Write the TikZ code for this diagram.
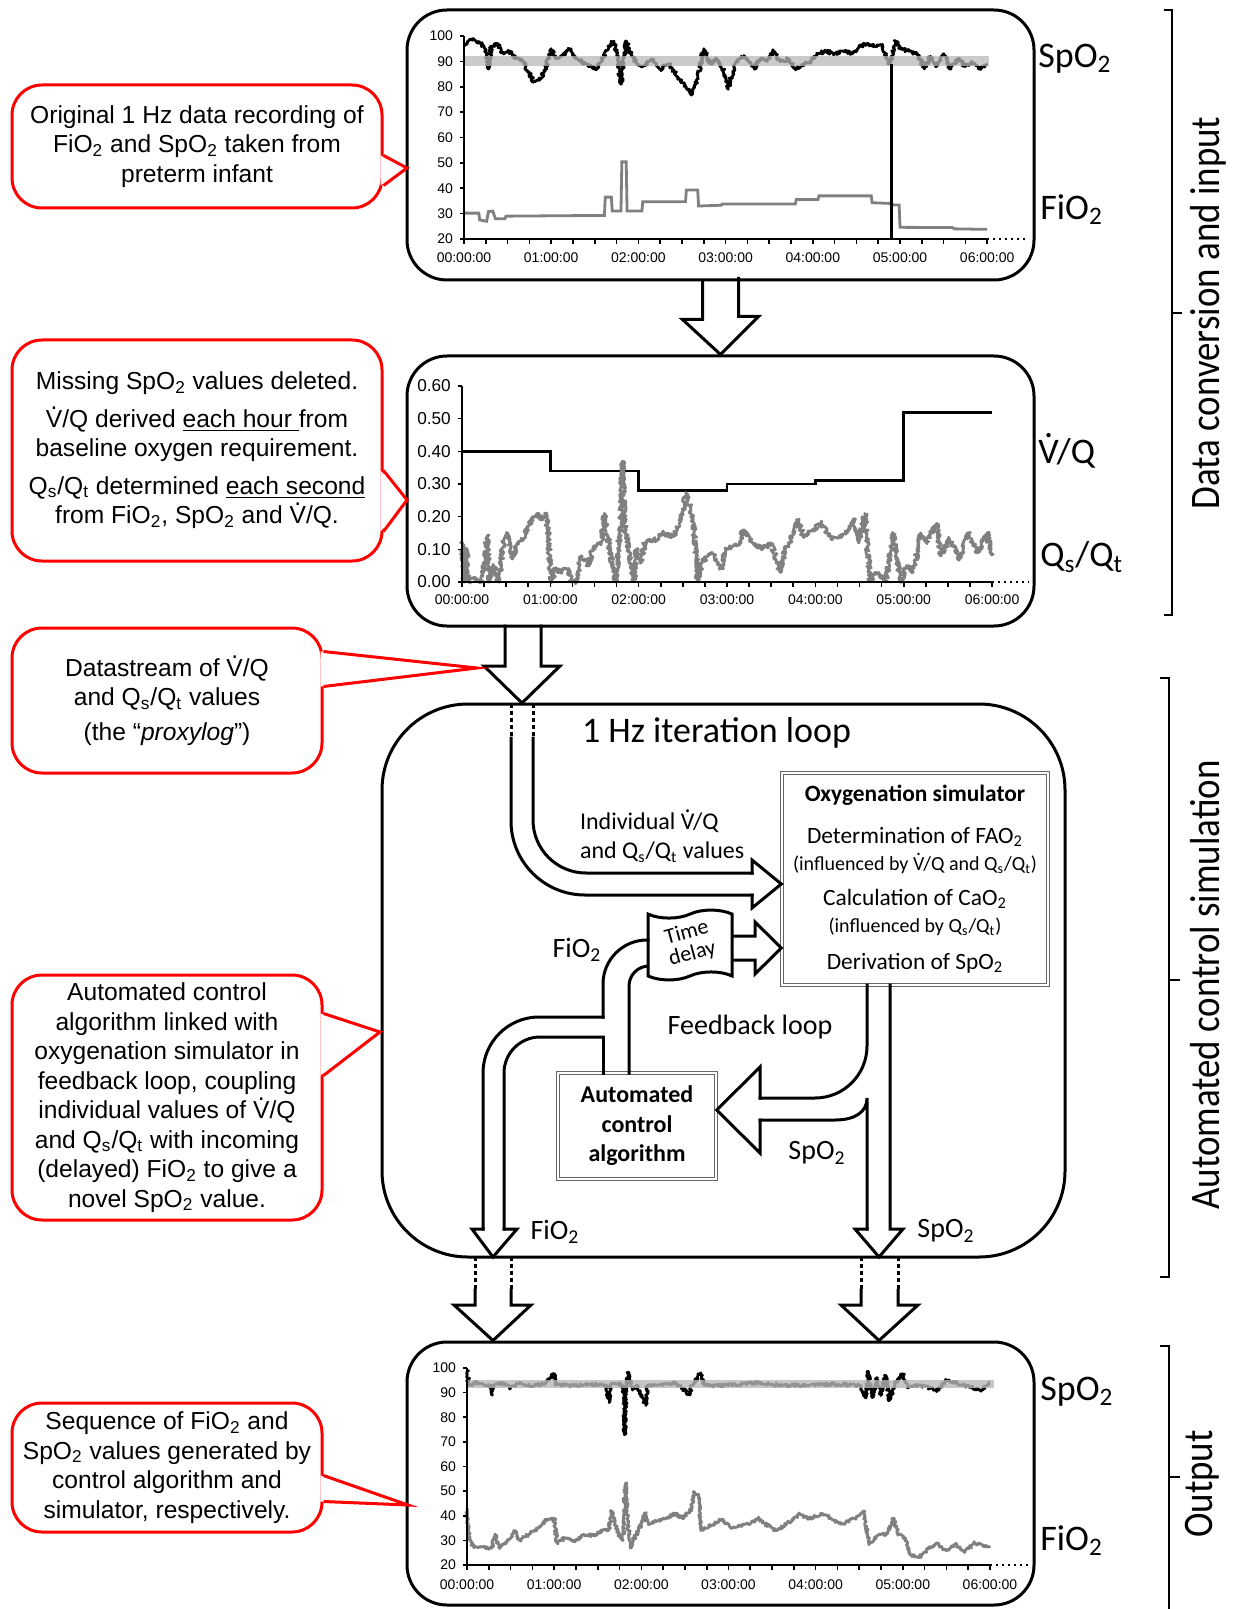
\documentclass[tikz,border=0pt]{standalone}
\usepackage{fontspec}
\setmainfont{Liberation Sans}
\newfontfamily\calibri{Carlito}
\usetikzlibrary{calc}
\usetikzlibrary{shapes.symbols}
\usetikzlibrary{decorations.pathmorphing}

\newcommand{\sbs}[1]{\textsubscript{#1}}
\newcommand{\Vdot}{\leavevmode\rlap{\hbox to \fontcharwd\font`V{\hss\raisebox{0.74em}{.}\hss}}V}

\tikzstyle{panel}=[draw,line width=1.5pt,rounded corners=20pt,inner sep=0pt]
\tikzstyle{callout}=[draw=red,line width=1.5pt,rounded corners=15pt,fill=white,align=center,inner sep=0pt,font=\fontsize{12.3}{14.75}\selectfont]
\tikzstyle{pointer}=[draw=red,line width=1.5pt,line join=miter]
\tikzstyle{pipe}=[draw,line width=1.5pt,line cap=rect,line join=miter]
\tikzstyle{dotpipe}=[draw,line width=1.5pt,line cap=butt,dash pattern=on 2pt off 1.5pt]
\tikzstyle{simbox}=[draw=black!60,double=white,double distance=1pt,line width=0.7pt,inner sep=0pt,align=center,fill=white]
\tikzstyle{axislbl}=[font=\fontsize{7}{8}\selectfont,inner sep=1pt]
\tikzstyle{sidelbl}=[font=\calibri\fontsize{18}{20}\selectfont,anchor=west,inner sep=0pt]
\tikzstyle{flowlbl}=[font=\calibri\fontsize{14}{16}\selectfont]
\tikzstyle{noisy}=[line width=1.4pt,line join=round,decorate,decoration={random steps,segment length=0.5pt,amplitude=0.9pt}]
\tikzstyle{stagebracket}=[draw,line width=0.8pt]
\tikzstyle{stagelbl}=[rotate=90,font=\calibri\fontsize{21}{24}\selectfont]

\begin{document}
\begin{tikzpicture}[x=0.5pt,y=-0.5pt]
\useasboundingbox (0,0) rectangle (1235,1609);
\pgfmathsetseed{11}

% panels
\node[panel,minimum width=313.5pt,minimum height=135pt] (top) at (720.5,145) {};
\node[panel,minimum width=313.5pt,minimum height=135pt] (mid) at (720.5,491) {};
\node[panel,rounded corners=43pt,minimum width=341.5pt,minimum height=276.5pt] (loop) at (723.5,980.5) {};
\node[panel,minimum width=313.5pt,minimum height=131.5pt] (outbox) at (720.5,1473.5) {};

% chart 1: raw recording
\begin{scope}[shift={(464,289.75)},x=43.6pt,y=1.26875pt]
  \draw[noisy] plot coordinates {(0,96) (0.05,98) (0.12,98.5) (0.2,97) (0.25,94) (0.28,87) (0.31,96) (0.38,97) (0.45,93) (0.52,94) (0.6,91) (0.68,90) (0.75,85) (0.8,82) (0.88,83) (0.93,87) (1.0,95) (1.05,91) (1.12,92) (1.2,95) (1.3,91) (1.4,89) (1.5,87) (1.58,90) (1.65,96) (1.72,98) (1.76,92) (1.8,81) (1.86,98) (1.9,94) (1.98,89) (2.05,88) (2.15,91) (2.25,87) (2.35,89) (2.45,84) (2.55,80) (2.62,77) (2.68,84) (2.75,95) (2.82,89) (2.9,91) (2.97,87) (3.03,79) (3.1,88) (3.18,92) (3.25,91) (3.33,87) (3.4,91) (3.48,90) (3.55,94) (3.62,90) (3.72,91) (3.8,87) (3.9,89) (3.98,90) (4.05,93) (4.15,94) (4.25,93) (4.35,94) (4.45,93) (4.55,96) (4.62,97) (4.72,96) (4.8,96) (4.88,89) (4.95,98) (5.0,95) (5.1,94) (5.2,93) (5.28,87) (5.35,92) (5.42,88) (5.5,93) (5.58,87) (5.66,91) (5.75,88) (5.82,90) (5.9,87) (6.0,89)};
  \fill[black!28,fill opacity=0.75] (0,88) rectangle (6.02,92.2);
  \draw[line width=1.4pt,black!50] plot coordinates {(0,30.2) (0.17,30.2) (0.18,27.5) (0.26,27) (0.28,30.8) (0.33,31) (0.36,28) (0.47,28) (0.48,29) (1.61,29.3) (1.62,36.5) (1.69,36.5) (1.7,31) (1.8,31) (1.81,50.4) (1.86,50.4) (1.87,31) (2.04,31) (2.05,34.7) (2.54,34.7) (2.55,39.3) (2.68,39.3) (2.69,33) (2.95,33.3) (2.96,33.8) (3.8,33.8) (3.81,35.6) (4.06,35.6) (4.07,37) (4.67,37) (4.68,34.3) (4.9,34) (4.93,33.4) (4.99,33.4) (5,24.6) (5.6,24.5) (5.62,24) (6,23.8)};
  \draw[line width=1.5pt] (4.905,89) -- (4.905,20);
  \draw[line width=1pt] (0,100) -- (0,20) -- (6,20);
  \draw[line width=1pt,dotted] (6,20) -- (6.45,20);
  \foreach \h in {0,0.25,...,6.1} \draw[line width=0.8pt] (\h,20) -- ++(0,-2);
  \foreach \v in {20,30,...,100} {
    \draw[line width=0.8pt] (0,\v) -- ++(-0.05,0);
    \node[axislbl,anchor=east] at (-0.1,\v) {\v};
  }
  \foreach \h in {0,...,6} \node[axislbl] at (\h,12.7) {0\h:00:00};
\end{scope}
\node[sidelbl] (spo2a) at (1038,59) {SpO\sbs{2}};
\node[sidelbl] (fio2a) at (1040,210) {FiO\sbs{2}};

% chart 2: proxylog
\begin{scope}[shift={(462,582)},x=44.17pt,y=1.6333pt]
  \draw[line width=1.4pt] (0,40) -- (1,40) -- (1,34) -- (2,34) -- (2,28) -- (3,28) -- (3,30) -- (4,30) -- (4,31) -- (5,31) -- (5,52) -- (6,52);
  \draw[noisy,black!50,decoration={amplitude=1.2pt}] plot coordinates {(0,12) (0.026,0) (0.052,10) (0.078,0) (0.13,1) (0.23,0) (0.285,14) (0.31,0) (0.36,5) (0.415,0) (0.47,12) (0.52,15) (0.57,7) (0.62,12) (0.7,13) (0.75,17) (0.8,20) (0.86,21) (0.91,19) (0.96,21) (0.985,10) (1.01,0) (1.06,4) (1.12,3) (1.18,4) (1.22,2) (1.245,0) (1.3,0) (1.35,8) (1.43,5) (1.48,10) (1.58,12) (1.61,21) (1.66,12) (1.74,0) (1.79,17) (1.815,37) (1.84,18) (1.89,8) (1.945,0) (1.97,10) (2.02,6) (2.07,12) (2.18,13) (2.28,15) (2.39,14) (2.46,18) (2.54,27) (2.59,22) (2.63,15) (2.67,0) (2.72,6) (2.83,9) (2.93,4) (2.98,10) (3.14,12) (3.19,16) (3.29,12) (3.4,10) (3.5,12) (3.6,3) (3.66,10) (3.76,15) (3.81,19) (3.86,14) (3.97,16) (4.07,18) (4.18,13) (4.28,14) (4.38,16) (4.43,19) (4.49,12) (4.56,21) (4.62,0) (4.69,3) (4.8,0) (4.88,15) (4.93,5) (4.98,0) (5.03,5) (5.11,3) (5.19,15) (5.26,12) (5.37,18) (5.42,8) (5.52,13) (5.63,7) (5.73,15) (5.84,9) (5.94,15) (6,8)};
  \draw[line width=1pt] (0,60) -- (0,0) -- (6,0);
  \draw[line width=1pt,dotted] (6,0) -- (6.42,0);
  \foreach \h in {0,0.25,...,6.1} \draw[line width=0.8pt] (\h,0) -- ++(0,-1.6);
  \foreach \v/\t in {0/0.00,10/0.10,20/0.20,30/0.30,40/0.40,50/0.50,60/0.60} {
    \draw[line width=0.8pt] (0,\v) -- ++(-0.05,0);
    \node[axislbl,anchor=east,font=\fontsize{8.6}{10}\selectfont] at (-0.1,\v) {\t};
  }
  \foreach \h in {0,...,6} \node[axislbl] at (\h,-5.5) {0\h:00:00};
\end{scope}
\node[sidelbl] (vqa) at (1038,451) {\Vdot/Q};
\node[sidelbl] (qsqta) at (1040,557) {Q\sbs{s}/Q\sbs{t}};

% chart 3: output
\begin{scope}[shift={(467,1614.25)},x=43.58pt,y=1.23125pt]
  \draw[noisy,decoration={amplitude=0.8pt}] plot coordinates {(0,99) (0.02,93) (0.1,94) (0.2,93) (0.27,93) (0.29,89) (0.31,93) (0.4,94) (0.5,92) (0.6,94) (0.7,93) (0.8,93) (0.9,94) (1.0,97.7) (1.02,93) (1.2,93) (1.4,93.5) (1.6,93) (1.63,86) (1.65,93) (1.75,94) (1.8,91) (1.81,73) (1.82,90) (1.85,98.4) (1.9,91) (1.95,93) (2.05,85) (2.07,93) (2.2,93) (2.4,94) (2.55,89) (2.58,93) (2.68,98) (2.72,93) (3.0,93) (3.3,94) (3.6,93) (3.9,93) (4.2,93.5) (4.5,93) (4.58,88) (4.6,98.7) (4.65,88) (4.7,96) (4.75,89) (4.8,97) (4.85,87) (4.9,93) (5.0,97.7) (5.05,92) (5.2,93) (5.4,91) (5.5,95) (5.7,93) (5.9,91) (6.0,94)};
  \fill[black!28,fill opacity=0.8] (0,91.7) rectangle (6.05,95);
  \draw[noisy,black!50,decoration={amplitude=0.8pt}] plot coordinates {(0,43) (0.026,31) (0.08,27) (0.29,27) (0.32,32.5) (0.37,27) (0.5,31) (0.55,34) (0.6,30) (0.71,32.5) (0.82,35) (0.92,38.6) (1.0,39) (1.03,29) (1.13,31) (1.24,29.5) (1.34,32.5) (1.45,32) (1.55,34) (1.63,34.5) (1.66,42) (1.7,36.5) (1.74,32.5) (1.79,30) (1.82,53.3) (1.84,39) (1.87,27) (1.92,31) (1.97,34) (2.05,41) (2.08,36.5) (2.18,38) (2.29,39) (2.39,41) (2.47,39) (2.58,43) (2.6,49.3) (2.66,48.6) (2.68,34) (2.82,36.5) (2.92,38.6) (3.03,35) (3.24,36.5) (3.34,39) (3.45,36) (3.55,34) (3.66,36.5) (3.82,40.6) (3.92,38.6) (4.08,41) (4.29,36.5) (4.45,39) (4.55,42) (4.61,28.5) (4.71,32) (4.82,32.5) (4.89,39) (4.95,32.5) (5.03,31) (5.08,24.4) (5.18,23) (5.29,26.5) (5.39,29) (5.5,25.8) (5.61,28.5) (5.71,25) (5.82,29) (5.92,27.8) (6.0,27)};
  \draw[line width=1pt] (0,100) -- (0,20) -- (6,20);
  \draw[line width=1pt,dotted] (6,20) -- (6.45,20);
  \foreach \h in {0,0.25,...,6.1} \draw[line width=0.8pt] (\h,20) -- ++(0,-2);
  \foreach \v in {20,30,...,100} {
    \draw[line width=0.8pt] (0,\v) -- ++(-0.05,0);
    \node[axislbl,anchor=east] at (-0.1,\v) {\v};
  }
  \foreach \h in {0,...,6} \node[axislbl] at (\h,11.9) {0\h:00:00};
\end{scope}
\node[sidelbl] (spo2c) at (1040,1392) {SpO\sbs{2}};
\node[sidelbl] (fio2c) at (1040,1541) {FiO\sbs{2}};

% arrows between panels
\draw[pipe] ($(top.south)+(-18,0)$) -- ++(0,38) -- ++(-20,0) -- (mid.north) -- ++(38,-38) -- ++(-20,0) -- ++(0,-38);
\draw[pipe] (505,626) -- (505,666) -- (484,666) -- (522,703) -- (560,666) -- (541,666) -- (541,626);

% loop contents
\node[anchor=west,font=\calibri\fontsize{18}{20}\selectfont] (looptitle) at (575,733) {1 Hz iteration loop};
\node[simbox,minimum width=133pt,minimum height=106pt,font=\calibri\fontsize{11.7}{13.5}\selectfont] (sim) at (915,879)
  {\textbf{Oxygenation simulator}\\[7.5pt]
   Determination of FAO\sbs{2}\\
   {\fontsize{10}{13.5}\selectfont (influenced by \Vdot/Q and Q\sbs{s}/Q\sbs{t})}\\[4pt]
   Calculation of CaO\sbs{2}\\
   {\fontsize{10}{13.5}\selectfont (influenced by Q\sbs{s}/Q\sbs{t})}\\[5pt]
   Derivation of SpO\sbs{2}};
\node[simbox,minimum width=79pt,minimum height=53pt,font=\calibri\bfseries\fontsize{12}{14.75}\selectfont] (algo) at (637,1126) {Automated\\control\\algorithm};
\node[draw,line width=1.5pt,tape,tape bend height=4pt,minimum width=42pt,minimum height=31pt,inner sep=0pt,fill=white,font=\calibri\fontsize{11}{10.5}\selectfont] (delay) at (690,945)
  {\rotatebox{15}{\begin{tabular}{@{}c@{}}Time\\delay\end{tabular}}};

% datastream into simulator
\draw[dotpipe] (511,704) -- (511,738);
\draw[dotpipe] (533,704) -- (533,738);
\draw[pipe,rounded corners=37pt] (511,738) -- (511,895) -- (752,895);
\draw[pipe,rounded corners=26.5pt] (533,738) -- (533,873) -- (752,873);
\draw[pipe] (752,873) -- (752,860) -- (sim.west |- 0,884) -- (752,908) -- (752,895);
\node[anchor=west,align=left,font=\calibri\fontsize{12}{14.5}\selectfont] (indiv) at (573,836) {Individual \Vdot/Q\\and Q\sbs{s}/Q\sbs{t} values};

% delayed FiO2 into simulator
\draw[pipe] (delay.east |- 0,936) -- (755,936) -- (755,922) -- (sim.west |- 0,948) -- (755,974) -- (755,960) -- (delay.east |- 0,960);

% FiO2 from algorithm
\draw[pipe,rounded corners=22pt] (648,940) -- (603,940) -- (603,1017);
\draw[pipe,rounded corners=28pt] (603,1017) -- (483,1017) -- (483,1229);
\draw[pipe,rounded corners=10pt] (648,966) -- (629,966) -- (629,1073);
\draw[pipe] (603,1073) -- (603,1037);
\draw[pipe,rounded corners=18pt] (603,1037) -- (504,1037) -- (504,1229);
\draw[pipe] (504,1229) -- (517,1229) -- (493,1257) -- (472,1229) -- (483,1229);

% SpO2 from simulator
\draw[pipe,rounded corners=26pt] (867,985) -- (867,1098) -- (760,1098);
\draw[pipe] (760,1098) -- (760,1067) -- (algo.east |- 0,1110) -- (760,1153) -- (760,1120);
\draw[pipe] (760,1120) -- (835,1120) .. controls (855,1120) and (867,1112) .. (867,1098) -- (867,1229);
\draw[pipe] (867,1229) -- (855,1229) -- (879,1257) -- (903,1229) -- (890,1229) -- (890,985);

\node[flowlbl] (fio2up) at (577,950) {FiO\sbs{2}};
\node[flowlbl] (fbloop) at (750,1027) {Feedback loop};
\node[flowlbl] (spo2mid) at (817,1153) {SpO\sbs{2}};
\node[flowlbl] (fio2low) at (555,1232) {FiO\sbs{2}};
\node[flowlbl] (spo2low) at (946,1231) {SpO\sbs{2}};

% outputs
\draw[dotpipe] (475,1257) -- (475,1290);
\draw[dotpipe] (511,1257) -- (511,1290);
\draw[pipe] (475,1290) -- (475,1305) -- (454,1305) -- (outbox.north -| 493,0) -- (531,1305) -- (511,1305) -- (511,1290);
\draw[dotpipe] (861,1257) -- (861,1290);
\draw[dotpipe] (898,1257) -- (898,1290);
\draw[pipe] (861,1290) -- (861,1305) -- (841,1305) -- (outbox.north -| 879,0) -- (918,1305) -- (898,1305) -- (898,1290);

% callouts
\node[callout,minimum width=185pt,minimum height=61.5pt] (note1) at (197,146.5)
  {Original 1 Hz data recording of\\FiO\sbs{2} and SpO\sbs{2} taken from\\preterm infant};
\node[callout,minimum width=185pt,minimum height=110.5pt] (note2) at (197,450.5)
  {Missing SpO\sbs{2} values deleted.\\[4pt]\Vdot/Q derived \underline{each hour\ }from\\baseline oxygen requirement.\\[4pt]Q\sbs{s}/Q\sbs{t} determined \underline{each second}\\from FiO\sbs{2}, SpO\sbs{2} and \Vdot/Q.};
\node[callout,minimum width=155pt,minimum height=72.5pt] (note3) at (167,700.5)
  {Datastream of \Vdot/Q\\and Q\sbs{s}/Q\sbs{t} values\\[2.5pt](the “\textit{proxylog}”)};
\node[callout,minimum width=155pt,minimum height=122.5pt] (note4) at (167,1097.5)
  {Automated control\\algorithm linked with\\oxygenation simulator in\\feedback loop, coupling\\individual values of \Vdot/Q\\and Q\sbs{s}/Q\sbs{t} with incoming\\(delayed) FiO\sbs{2} to give a\\novel SpO\sbs{2} value.};
\node[callout,minimum width=155pt,minimum height=64.5pt] (note5) at (167,1467.5)
  {Sequence of FiO\sbs{2} and\\SpO\sbs{2} values generated by\\control algorithm and\\simulator, respectively.};

\coordinate (tip1) at (407,168);
\coordinate (tip2) at (407,500);
\coordinate (tip3) at (477,668);
\coordinate (tip4) at (380,1032);
\coordinate (tip5) at (408,1505);
\foreach \n/\a/\b in {1/72/102, 2/132/193, 3/25/60, 4/40/102, 5/74/100} {
  \fill[white] ($(note\n.north east)+(-3,\a)$) -- (tip\n) -- ($(note\n.north east)+(-3,\b)$) -- cycle;
  \draw[pointer] ($(note\n.north east)+(0,\a)$) -- (tip\n) -- ($(note\n.north east)+(0,\b)$);
}

% stage brackets
\draw[stagebracket] (1164,10) -- (1172,10) -- (1172,615) -- (1164,615);
\draw[stagebracket] (1172,313) -- (1182,313);
\node[stagelbl] (stage1) at (1208,313) {\scalebox{0.88}[1]{Data conversion and input}};
\draw[stagebracket] (1160,678) -- (1169,678) -- (1169,1277) -- (1160,1277);
\draw[stagebracket] (1169,980) -- (1180,980);
\node[stagelbl] (stage2) at (1205,985) {\scalebox{0.88}[1]{Automated control simulation}};
\draw[stagebracket] (1160,1346) -- (1169,1346) -- (1169,1612);
\draw[stagebracket] (1169,1477) -- (1180,1477);
\node[stagelbl] (stage3) at (1202,1484) {\scalebox{0.88}[1]{Output}};
\end{tikzpicture}
\end{document}
